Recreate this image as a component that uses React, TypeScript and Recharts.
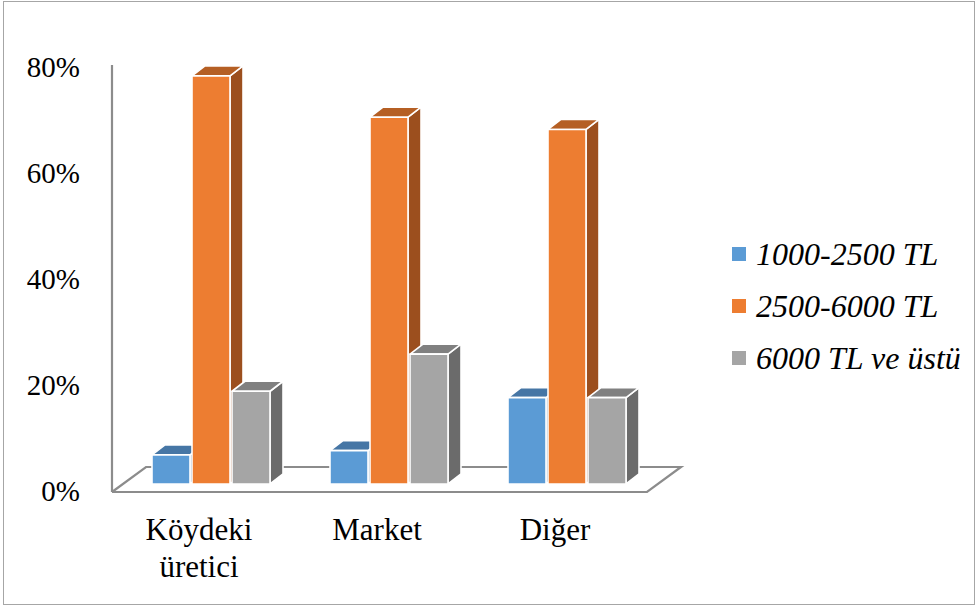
import React from "react";
import { BarChart, Bar, XAxis, YAxis } from "recharts";

// Share of buyers per income bracket, by place of purchase (%)
const CATEGORIES = ["Köydeki\nüretici", "Market", "Diğer"];
const LOW = [5.5, 6.3, 16.3]; // 1000-2500 TL
const MID = [77, 69.2, 66.9]; // 2500-6000 TL
const HIGH = [17.5, 24.5, 16.3]; // 6000 TL ve üstü
const Y_TICKS = [0, 20, 40, 60, 80];

const SERIES = [
  { key: "low", name: "1000-2500 TL", front: "#5b9bd5", top: "#4676a5", side: "#3d6891" },
  { key: "mid", name: "2500-6000 TL", front: "#ed7d31", top: "#b55f24", side: "#9c4f1e" },
  { key: "high", name: "6000 TL ve üstü", front: "#a5a5a5", top: "#808080", side: "#6b6b6b" },
];

const data = CATEGORIES.map((name, i) => ({
  name,
  low: LOW[i],
  mid: MID[i],
  high: HIGH[i],
}));

const W = 979;
const H = 610;
const PLOT = { left: 122, right: 656, top: 68, bottom: 492 };
const FONT = '"Liberation Serif", "Times New Roman", serif';

// bar depth and how far the bars sit behind the front edge of the floor
const DX = 13;
const DY = 10;
const LIFT = 8;
// floor depth
const FDX = 34;
const FDY = 25;

type Colors = { front: string; top: string; side: string };

const Box3D = (props: any) => {
  const { x, y, width, height, colors } = props as {
    x: number;
    y: number;
    width: number;
    height: number;
    colors: Colors;
  };
  if (width == null || height == null) return null;
  const l = x;
  const r = x + width;
  const t = y - LIFT;
  const b = y + height - LIFT;
  const sw = 1.6;
  return (
    <g stroke="#fff" strokeWidth={sw} strokeLinejoin="round">
      <polygon
        points={`${r},${t} ${r + DX},${t - DY} ${r + DX},${b - DY} ${r},${b}`}
        fill={colors.side}
      />
      <polygon
        points={`${l},${t} ${l + DX},${t - DY} ${r + DX},${t - DY} ${r},${t}`}
        fill={colors.top}
      />
      <rect x={l} y={t} width={width} height={b - t} fill={colors.front} />
    </g>
  );
};

const CategoryTick = (props: any) => {
  const { x, y, payload } = props;
  const lines = String(payload.value).split("\n");
  const cx = x - 12;
  return (
    <text x={cx} y={y + 48} textAnchor="middle" fontSize={31} fontFamily={FONT} fill="#000">
      {lines.map((line, i) => (
        <tspan key={i} x={cx} dy={i === 0 ? 0 : 37}>
          {line}
        </tspan>
      ))}
    </text>
  );
};

const PercentTick = (props: any) => {
  const { x, y, payload } = props;
  return (
    <text x={x} y={y + 9} textAnchor="end" fontSize={29} fontFamily={FONT} fill="#000">
      {`${payload.value}%`}
    </text>
  );
};

// floor plane and vertical axis line behind the bars
const Floor = () => {
  const ax = PLOT.left - 10;
  const fr = PLOT.right - 9;
  const yb = PLOT.bottom;
  const stroke = "#8c8c8c";
  return (
    <svg
      width={W}
      height={H}
      style={{ position: "absolute", left: 0, top: 0 }}
    >
      <g stroke={stroke} strokeWidth={2.2} fill="none">
        <line x1={ax} y1={PLOT.top - 3} x2={ax} y2={yb} />
        <polyline
          points={`${ax},${yb} ${ax + FDX},${yb - FDY} ${fr + FDX},${yb - FDY} ${fr},${yb} ${ax},${yb}`}
        />
      </g>
    </svg>
  );
};

const LegendBox = () => (
  <div
    style={{
      position: "absolute",
      left: 732,
      top: 228,
      fontFamily: FONT,
      fontStyle: "italic",
      fontSize: 32,
      color: "#000",
    }}
  >
    {SERIES.map((s) => (
      <div
        key={s.key}
        style={{ display: "flex", alignItems: "center", height: 52, whiteSpace: "nowrap" }}
      >
        <span
          style={{
            display: "inline-block",
            width: 14,
            height: 14,
            background: s.front,
            marginRight: 10,
          }}
        />
        <span>{s.name}</span>
      </div>
    ))}
  </div>
);

export default function App() {
  return (
    <div
      style={{
        position: "absolute",
        left: 0,
        top: 0,
        width: W,
        height: H,
        background: "#fff",
        overflow: "hidden",
      }}
    >
      <div
        style={{
          position: "absolute",
          left: 3,
          top: 1,
          width: 972,
          height: 604,
          border: "1.5px solid #a6a6a6",
          boxSizing: "border-box",
        }}
      />
      <Floor />
      <div style={{ position: "absolute", left: 0, top: 0 }}>
        <BarChart
          width={W}
          height={H}
          data={data}
          margin={{ top: PLOT.top, right: W - PLOT.right, bottom: H - PLOT.bottom - 30, left: 0 }}
          barSize={38}
          barGap={2}
        >
          <XAxis
            dataKey="name"
            height={30}
            axisLine={false}
            tickLine={false}
            tickSize={0}
            tickMargin={0}
            interval={0}
            tick={<CategoryTick />}
          />
          <YAxis
            width={PLOT.left}
            domain={[0, 80]}
            ticks={Y_TICKS}
            axisLine={false}
            tickLine={false}
            tickSize={0}
            tickMargin={42}
            tick={<PercentTick />}
          />
          {SERIES.map((s) => (
            <Bar
              key={s.key}
              dataKey={s.key}
              name={s.name}
              fill={s.front}
              isAnimationActive={false}
              shape={(p: any) => <Box3D {...p} colors={s} />}
            />
          ))}
        </BarChart>
      </div>
      <LegendBox />
    </div>
  );
}
